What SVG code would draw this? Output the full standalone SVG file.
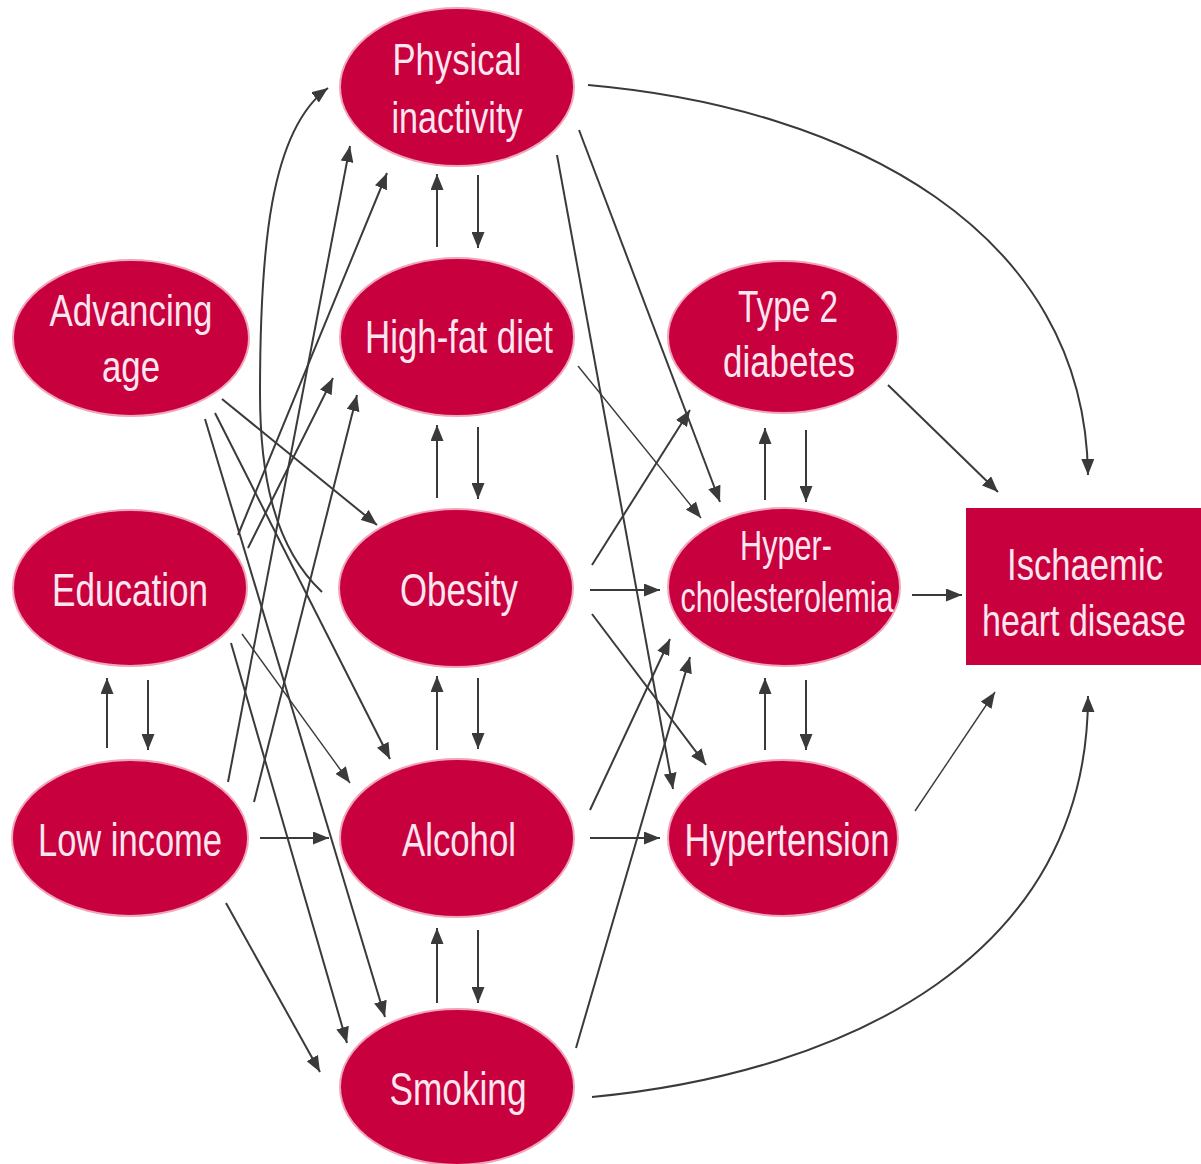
<svg xmlns="http://www.w3.org/2000/svg" width="1201" height="1164" viewBox="0 0 1201 1164">
<defs>
<marker id="ah" viewBox="0 0 16 13" refX="16" refY="6.5" markerWidth="16" markerHeight="13" orient="auto" markerUnits="userSpaceOnUse">
<path d="M0,0 L16,6.5 L0,13 z" fill="#3a3a3a"/>
</marker>
<style>
.n{fill:#c8003e;stroke:#f0a6bd;stroke-width:2}
.t{font-family:"Liberation Sans",Arial,sans-serif;fill:#fde6ef;text-anchor:middle}
.c path{fill:none;stroke:#3a3a3a;stroke-width:2;marker-end:url(#ah)}
.c path.th{stroke-width:1.4}
</style>
</defs>
<rect width="1201" height="1164" fill="#ffffff"/>

<g class="c" id="connectors">
<path d="M437,247 L437,174"/>
<path d="M478,175 L478,248"/>
<path d="M437,498 L437,425"/>
<path d="M478,427 L478,499"/>
<path d="M437,750 L437,676"/>
<path d="M478,678 L478,749"/>
<path d="M437,1003 L437,928"/>
<path d="M478,930 L478,1003"/>
<path d="M765,500 L765,428"/>
<path d="M806,430 L806,502"/>
<path d="M765,750 L765,678"/>
<path d="M806,680 L806,750"/>
<path d="M107,748 L107,678"/>
<path d="M148,680 L148,750"/>
<path d="M260,838 L329,838"/>
<path d="M590,590 L660,590"/>
<path d="M590,838 L660,838"/>
<path d="M912,595 L962,595"/>
<path d="M222,399 L377,525"/>
<path d="M215,413 L390,759"/>
<path d="M205,419 L385,1017"/>
<path d="M238,535 L387,173"/>
<path d="M248,548 L333,378"/>
<path class="th" d="M242,634 L350,783"/>
<path d="M231,643 L347,1043"/>
<path d="M228,782 L350,146"/>
<path d="M254,802 L357,395"/>
<path d="M226,903 L320,1072"/>
<path d="M322,592 C272,545 260,470 260,393 C260,250 270,130 328,88"/>
<path d="M592,565 L690,410"/>
<path d="M592,614 L706,765"/>
<path d="M590,810 L670,639"/>
<path d="M576,1048 L690,657"/>
<path d="M557,155 L673,789"/>
<path d="M579,130 L720,502"/>
<path class="th" d="M578,366 L701,518"/>
<path d="M888,385 L998,492"/>
<path class="th" d="M915,811 L995,692"/>
<path d="M588,85 C850,108 1085,230 1088,475"/>
<path d="M592,1097 C850,1072 1088,955 1088,696"/>
</g>

<g id="advancing-age">
<ellipse class="n" cx="131" cy="338" rx="118" ry="78"/>
<text class="t" x="131" y="326" font-size="45" textLength="163" lengthAdjust="spacingAndGlyphs">Advancing</text>
<text class="t" x="131" y="382" font-size="45" textLength="58" lengthAdjust="spacingAndGlyphs">age</text>
</g>
<g id="education">
<ellipse class="n" cx="130" cy="588" rx="117" ry="78"/>
<text class="t" x="130" y="606" font-size="46" textLength="156" lengthAdjust="spacingAndGlyphs">Education</text>
</g>
<g id="low-income">
<ellipse class="n" cx="130" cy="838" rx="118" ry="78"/>
<text class="t" x="130" y="856" font-size="46" textLength="184" lengthAdjust="spacingAndGlyphs">Low income</text>
</g>
<g id="physical-inactivity">
<ellipse class="n" cx="457" cy="87" rx="117" ry="79"/>
<text class="t" x="457" y="75" font-size="45" textLength="129" lengthAdjust="spacingAndGlyphs">Physical</text>
<text class="t" x="457" y="133" font-size="45" textLength="131" lengthAdjust="spacingAndGlyphs">inactivity</text>
</g>
<g id="high-fat-diet">
<ellipse class="n" cx="457" cy="337" rx="117" ry="79"/>
<text class="t" x="459" y="353" font-size="46" textLength="188" lengthAdjust="spacingAndGlyphs">High-fat diet</text>
</g>
<g id="obesity">
<ellipse class="n" cx="456" cy="588" rx="117" ry="79"/>
<text class="t" x="459" y="606" font-size="46" textLength="118" lengthAdjust="spacingAndGlyphs">Obesity</text>
</g>
<g id="alcohol">
<ellipse class="n" cx="457" cy="838" rx="117" ry="79"/>
<text class="t" x="459" y="856" font-size="46" textLength="114" lengthAdjust="spacingAndGlyphs">Alcohol</text>
</g>
<g id="smoking">
<ellipse class="n" cx="457" cy="1087" rx="117" ry="78"/>
<text class="t" x="458" y="1105" font-size="46" textLength="137" lengthAdjust="spacingAndGlyphs">Smoking</text>
</g>
<g id="type-2-diabetes">
<ellipse class="n" cx="783" cy="337" rx="115" ry="76"/>
<text class="t" x="788" y="322" font-size="45" textLength="100" lengthAdjust="spacingAndGlyphs">Type 2</text>
<text class="t" x="789" y="377" font-size="45" textLength="132" lengthAdjust="spacingAndGlyphs">diabetes</text>
</g>
<g id="hypercholesterolemia">
<ellipse class="n" cx="784" cy="587" rx="116" ry="79"/>
<text class="t" x="786" y="560" font-size="42" textLength="92" lengthAdjust="spacingAndGlyphs">Hyper-</text>
<text class="t" x="787" y="612" font-size="42" textLength="213" lengthAdjust="spacingAndGlyphs">cholesterolemia</text>
</g>
<g id="hypertension">
<ellipse class="n" cx="783" cy="838" rx="115" ry="78"/>
<text class="t" x="787" y="856" font-size="46" textLength="205" lengthAdjust="spacingAndGlyphs">Hypertension</text>
</g>
<g id="ischaemic-heart-disease">
<rect x="966" y="508" width="235" height="157" fill="#c8003e"/>
<text class="t" transform="translate(1085,580) scale(0.77,1)" x="0" y="0" font-size="45">Ischaemic</text>
<text class="t" transform="translate(1084,636) scale(0.755,1)" x="0" y="0" font-size="45">heart disease</text>
</g>
</svg>
